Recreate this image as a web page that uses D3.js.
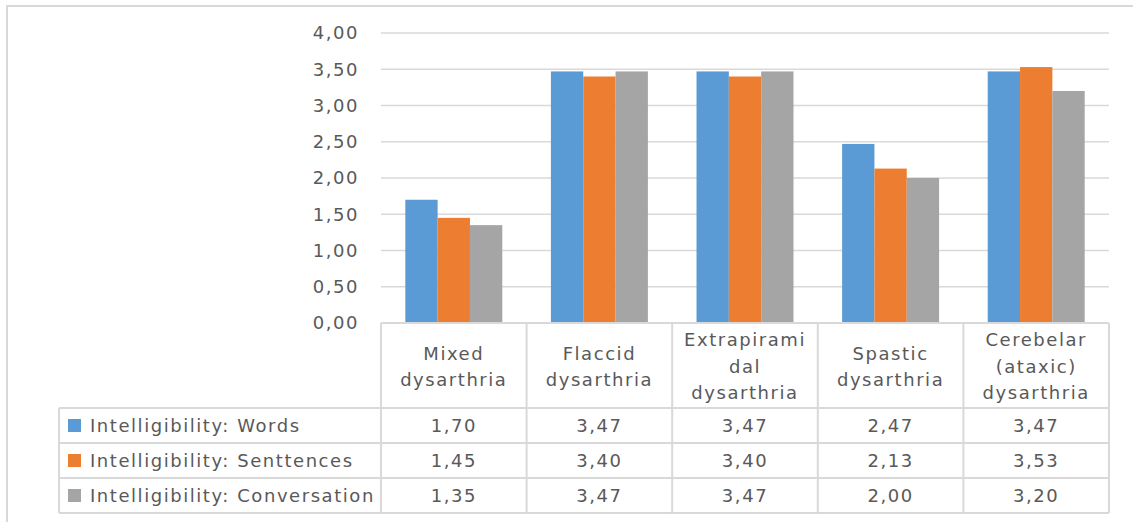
<!DOCTYPE html>
<html><head><meta charset="utf-8">
<script src="https://cdn.jsdelivr.net/npm/d3@7"></script>
<style>
html,body{margin:0;padding:0;background:#fff;}
text{font-family:"DejaVu Sans",sans-serif;font-size:18px;fill:#595959;letter-spacing:1.55px;}
</style></head>
<body><svg id="c" width="1133" height="522"></svg>
<script>
const categories = [["Mixed","dysarthria"],["Flaccid","dysarthria"],["Extrapirami","dal","dysarthria"],["Spastic","dysarthria"],["Cerebelar","(ataxic)","dysarthria"]];
const seriesNames = ["Intelligibility: Words","Intelligibility: Senttences","Intelligibility: Conversation"];
const words = [1.70,3.47,3.47,2.47,3.47];
const sentences = [1.45,3.40,3.40,2.13,3.53];
const conversation = [1.35,3.47,3.47,2.00,3.20];
const colors = ["#5B9BD5","#ED7D31","#A5A5A5"];
const yTicks = [0,0.5,1,1.5,2,2.5,3,3.5,4];
const series = [words, sentences, conversation];
const fmt = v => v.toFixed(2).replace(".", ",");

const svg = d3.select("#c");
const grid = "#d9d9d9";
svg.append("rect").attr("x",7).attr("y",6).attr("width",1140).attr("height",530)
  .attr("fill","none").attr("stroke",grid).attr("stroke-width",2);

const pLeft = 381, pRight = 1109, pTop = 33, pBase = 323;
const x0 = d3.scaleBand().domain(d3.range(categories.length)).range([pLeft,pRight]).padding(0);
const bw = x0.bandwidth();
const gap = bw*0.167;
const x1 = d3.scaleBand().domain(d3.range(series.length)).range([gap, bw-gap]).padding(0);
const y = d3.scaleLinear().domain([0,4]).range([pBase, pTop]);

svg.append("g").selectAll("line").data(yTicks.filter(t=>t>0)).join("line")
  .attr("x1",pLeft).attr("x2",pRight).attr("y1",d=>y(d)).attr("y2",d=>y(d))
  .attr("stroke",grid).attr("stroke-width",1.5);
svg.append("g").selectAll("text").data(yTicks).join("text")
  .attr("x",359).attr("y",d=>y(d)).attr("dy","0.36em").attr("text-anchor","end").text(fmt);

categories.forEach((c,i)=>{
  series.forEach((s,j)=>{
    svg.append("rect").attr("x",x0(i)+x1(j)).attr("width",x1.bandwidth())
      .attr("y",y(s[i])).attr("height",pBase-y(s[i])).attr("fill",colors[j]);
  });
});

const hdrBottom = 408, rowH = 35;
const tableLeft = 59;
const tl = svg.append("g").attr("stroke",grid).attr("stroke-width",2).attr("fill","none");
tl.append("line").attr("x1",pLeft).attr("x2",pRight).attr("y1",pBase).attr("y2",pBase);
for(let r=0;r<=series.length;r++){
  const yy = hdrBottom + r*rowH;
  tl.append("line").attr("x1",tableLeft).attr("x2",pRight).attr("y1",yy).attr("y2",yy);
}
const tableBottom = hdrBottom + series.length*rowH;
tl.append("line").attr("x1",tableLeft).attr("x2",tableLeft).attr("y1",hdrBottom).attr("y2",tableBottom);
for(let i=0;i<=categories.length;i++){
  const xx = pLeft + i*bw;
  tl.append("line").attr("x1",xx).attr("x2",xx).attr("y1",pBase).attr("y2",tableBottom);
}
const lineH = 26.5;
categories.forEach((c,i)=>{
  const cx = x0(i)+bw/2;
  const cy = (pBase+hdrBottom)/2 + 1;
  const t = svg.append("text").attr("text-anchor","middle");
  c.forEach((ln,k)=>{
    t.append("tspan").attr("x",cx).attr("y",cy + (k-(c.length-1)/2)*lineH).attr("dy","0.36em").text(ln);
  });
});
series.forEach((s,j)=>{
  const cy = hdrBottom + j*rowH + rowH/2;
  svg.append("rect").attr("x",68).attr("y",cy-6.5).attr("width",13).attr("height",13).attr("fill",colors[j]);
  svg.append("text").attr("x",90).attr("y",cy).attr("dy","0.36em").text(seriesNames[j]);
  s.forEach((v,i)=>{
    svg.append("text").attr("x",x0(i)+bw/2).attr("y",cy).attr("dy","0.36em").attr("text-anchor","middle").text(fmt(v));
  });
});
</script></body></html>
